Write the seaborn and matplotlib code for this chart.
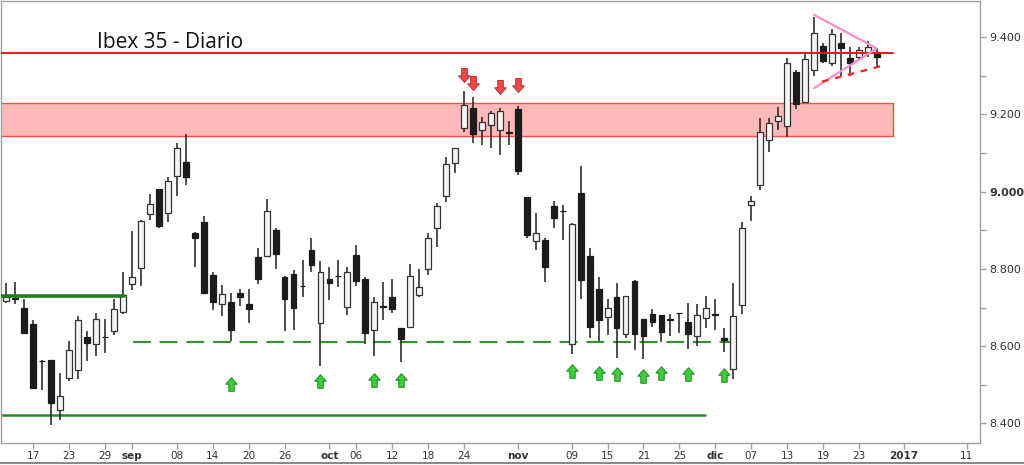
import numpy as np
import matplotlib
matplotlib.use('Agg')
import matplotlib.pyplot as plt
from matplotlib.path import Path
from matplotlib.lines import Line2D
import seaborn as sns

# daily candles (trading-day index 0 = 12 ago 2016)
opens = [8717, 8725, 8700, 8658, 8562, 8565, 8436, 8518, 8539, 8624,
         8605, 8625, 8639, 8689, 8760, 8803, 8942, 9006, 8946, 9041,
         9077, 8892, 8922, 8784, 8710, 8714, 8739, 8708, 8831, 8833,
         8900, 8779, 8788, 8757, 8849, 8660, 8773, 8783, 8702, 8836,
         8773, 8641, 8704, 8727, 8647, 8651, 8732, 8799, 8905, 8989,
         9075, 9164, 9216, 9161, 9173, 9161, 9155, 9213, 8987, 8872,
         8876, 8963, 8951, 8605, 8996, 8833, 8747, 8676, 8727, 8631,
         8768, 8671, 8684, 8680, 8670, 8686, 8663, 8626, 8674, 8684,
         8620, 8542, 8706, 8965, 9017, 9134, 9184, 9170, 9311, 9233,
         9315, 9377, 9333, 9384, 9346, 9350, 9359, 9357]
highs = [8763, 8766, 8723, 8667, 8565, 8565, 8530, 8613, 8677, 8639,
         8687, 8671, 8723, 8792, 8899, 8926, 8994, 9008, 9037, 9127,
         9149, 8896, 8937, 8792, 8758, 8738, 8749, 8749, 8853, 8980,
         8907, 8782, 8797, 8823, 8879, 8820, 8804, 8824, 8804, 8861,
         8778, 8727, 8766, 8773, 8647, 8814, 8799, 8893, 8971, 9089,
         9112, 9262, 9246, 9194, 9210, 9216, 9183, 9222, 8987, 8945,
         8879, 8976, 8965, 8918, 9066, 8855, 8779, 8721, 8764, 8730,
         8771, 8671, 8697, 8680, 8684, 8687, 8712, 8710, 8729, 8723,
         8647, 8764, 8922, 8989, 9190, 9190, 9219, 9346, 9315, 9357,
         9452, 9386, 9421, 9410, 9376, 9376, 9389, 9371]
lows = [8711, 8708, 8632, 8490, 8486, 8395, 8408, 8511, 8516, 8562,
        8574, 8582, 8628, 8684, 8745, 8755, 8928, 8907, 8922, 8989,
        9017, 8805, 8734, 8695, 8677, 8613, 8703, 8660, 8760, 8830,
        8800, 8639, 8643, 8727, 8792, 8550, 8719, 8753, 8680, 8755,
        8605, 8574, 8669, 8686, 8559, 8646, 8727, 8784, 8856, 8974,
        9049, 9155, 9127, 9121, 9112, 9095, 9121, 9043, 8879, 8849,
        8766, 8905, 8874, 8579, 8721, 8622, 8613, 8628, 8570, 8620,
        8589, 8568, 8651, 8611, 8626, 8634, 8594, 8600, 8648, 8643,
        8585, 8516, 8683, 8925, 9004, 9103, 9160, 9142, 9213, 9229,
        9300, 9334, 9326, 9300, 9300, 9343, 9350, 9324]
closes = [8727, 8722, 8633, 8493, 8561, 8453, 8472, 8591, 8667, 8608,
          8671, 8623, 8697, 8732, 8778, 8924, 8968, 8911, 9028, 9112,
          9037, 8881, 8738, 8714, 8734, 8643, 8727, 8697, 8773, 8950,
          8838, 8723, 8700, 8755, 8810, 8792, 8764, 8781, 8791, 8769,
          8634, 8714, 8702, 8697, 8618, 8781, 8753, 8879, 8963, 9073,
          9112, 9224, 9149, 9181, 9205, 9210, 9153, 9054, 8889, 8893,
          8805, 8933, 8949, 8916, 8771, 8651, 8669, 8700, 8648, 8730,
          8631, 8626, 8663, 8637, 8668, 8685, 8631, 8680, 8700, 8682,
          8615, 8677, 8907, 8976, 9155, 9179, 9196, 9333, 9227, 9343,
          9412, 9339, 9409, 9371, 9334, 9367, 9376, 9348]

tick_pos = [3, 7, 11, 14, 19, 23, 27, 31, 36, 39, 43, 47, 51, 57, 63, 67,
            71, 75, 79, 83, 87, 91, 95, 100, 107]
tick_labels = ['17', '23', '29', 'sep', '08', '14', '20', '26', 'oct', '06',
               '12', '18', '24', 'nov', '09', '15', '21', '25', 'dic', '07',
               '13', '19', '23', '2017', '11']
bold_labels = ['sep', 'oct', 'nov', 'dic', '2017']

# support / resistance levels
resist_line = 9358
resist_band = (9144, 9229)
green_thick = 8730
green_dashed = 8612
green_low = 8423

# signal arrows
up_x = [25, 35, 41, 44, 63, 66, 68, 71, 73, 76, 80]
up_y = [8502, 8510, 8512, 8512, 8535, 8531, 8528, 8523, 8531, 8529, 8525]
down_x = [51, 52, 55, 57]
down_y = [9302, 9282, 9272, 9276]

# triangle pattern
tri_x = [90, 97, 90]
tri_y = [9458, 9371, 9268]
support_x = [90.9, 97.9]
support_y = [9285, 9328]

sns.set_style('white')
plt.rcParams['font.family'] = ['DejaVu Sans']

fig = plt.figure(figsize=(10.24, 4.65), dpi=100)
ax = fig.add_axes([0.001, 0.047, 0.956, 0.951])

idx = np.arange(len(opens))
o = np.array(opens); c = np.array(closes)
h = np.array(highs); l = np.array(lows)
up = c >= o

# resistance band
ax.fill_between([-0.7, 98.8], resist_band[0], resist_band[1],
                facecolor='#ffb9b9', edgecolor='#ff4a4a', lw=1, zorder=1)

# wicks and bodies
ax.vlines(idx, l, h, color='#1e1e1e', lw=1.1, zorder=3)
bottoms = np.minimum(o, c)
heights = np.abs(c - o)
ax.bar(idx[up], heights[up], bottom=bottoms[up], width=0.65,
       color='#f4f4f4', edgecolor='#333333', lw=0.9, zorder=4)
ax.bar(idx[~up], heights[~up], bottom=bottoms[~up], width=0.65,
       color='#1c1c1c', edgecolor='#1c1c1c', lw=0.9, zorder=4)

# levels
ax.plot([-0.7, 98.8], [resist_line] * 2, color='#ff1010', lw=1.4, zorder=5)
ax.plot([-0.7, 13.1], [green_thick] * 2, color='#1b7d1b', lw=2.6, zorder=5)
ax.plot([14.1, 81], [green_dashed] * 2, color='#2a9a2a', lw=1.5,
        dashes=(8.6, 4.2), zorder=2)
ax.plot([-0.7, 77.9], [green_low] * 2, color='#2a8a2a', lw=1.8, zorder=2)

# triangle
ax.plot(tri_x, tri_y, color='#ff8cc8', lw=1.6, zorder=6)
ax.plot(support_x, support_y, color='#ff2020', lw=1.6, dashes=(3, 3), zorder=6)

# arrows
arrow_up = Path([(0, 0.5), (0.42, 0.02), (0.2, 0.02), (0.2, -0.5),
                 (-0.2, -0.5), (-0.2, 0.02), (-0.42, 0.02), (0, 0.5)])
arrow_down = Path([(0, -0.5), (0.42, -0.02), (0.2, -0.02), (0.2, 0.5),
                   (-0.2, 0.5), (-0.2, -0.02), (-0.42, -0.02), (0, -0.5)])
ax.scatter(up_x, up_y, marker=arrow_up, s=95, facecolor='#3ccf3c',
           edgecolor='#1a8a1a', lw=0.7, zorder=6)
ax.scatter(down_x, down_y, marker=arrow_down, s=100, facecolor='#ee4a4a',
           edgecolor='#b83030', lw=0.7, zorder=6)

ax.text(10.1, 9372, 'Ibex 35 - Diario', fontsize=15, family='Open Sans',
        color='#111111', va='baseline', zorder=7)

ax.set_xlim(-0.6, 108.5)
ax.set_ylim(8349, 9494)

# axes styling
ax.yaxis.tick_right()
ytk = [8400, 8600, 8800, 9000, 9200, 9400]
ax.set_yticks(ytk)
ax.set_yticklabels([f'{v / 1000:.3f}' for v in ytk])
ax.set_yticks([8500, 8700, 8900, 9100, 9300], minor=True)
for lab in ax.get_yticklabels():
    if lab.get_text() == '9.000':
        lab.set_fontweight('bold')
ax.set_xticks(tick_pos)
ax.set_xticklabels(tick_labels)
for lab in ax.get_xticklabels():
    if lab.get_text() in bold_labels:
        lab.set_fontweight('bold')
ax.tick_params(axis='both', which='both', direction='out', length=4,
               color='#a0a0a0', labelcolor='#333333', labelsize=7.5, width=1)
ax.tick_params(axis='y', which='both', left=False, right=True, pad=3,
               labelsize=8)
ax.tick_params(axis='x', bottom=True, pad=2)
for s in ax.spines.values():
    s.set_color('#a0a0a0')
    s.set_linewidth(1)

fig.add_artist(Line2D([0, 1], [0.004, 0.004], color='#8a8a8a', lw=1.5,
                      transform=fig.transFigure))

fig.savefig('out.png', dpi=100, facecolor='white')
